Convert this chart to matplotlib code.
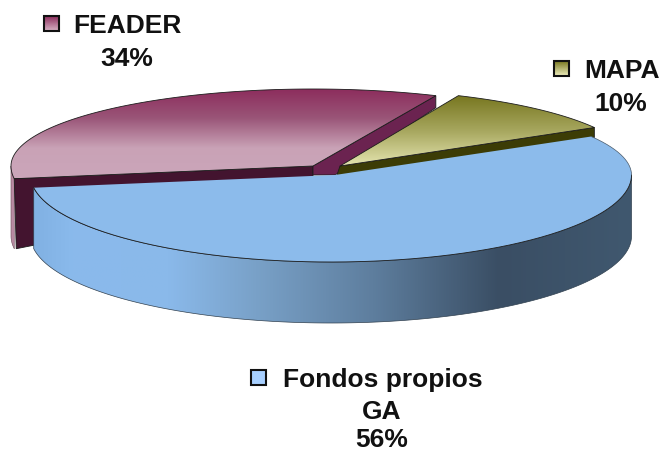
import numpy as np
import matplotlib
matplotlib.use("Agg")
import matplotlib.pyplot as plt
from matplotlib.colors import LinearSegmentedColormap
from matplotlib.patches import Polygon, Rectangle

labels = ["Fondos propios\nGA", "FEADER", "MAPA"]
shares = [56, 34, 10]
start_angle = 30

WIDTH, HEIGHT = 665, 453
plt.rcParams["font.family"] = ["Liberation Sans", "DejaVu Sans"]

fig = plt.figure(figsize=(WIDTH / 100, HEIGHT / 100), dpi=100)
ax = fig.add_axes([0, 0, 1, 1])
ax.set_xlim(0, WIDTH)
ax.set_ylim(HEIGHT, 0)
ax.axis("off")


def arc(center, start, end, rx=300, ry_back=77, ry_front=87):
    # back half of the pie looks flatter than the front half
    t = np.radians(np.linspace(start, end, 200))
    s = np.sin(t)
    ry = np.where(s > 0, ry_back, ry_front)
    return np.column_stack([center[0] + rx * np.cos(t), center[1] - ry * s])


def gradient(patch, colors, extent, horizontal=False, z=1):
    cmap = LinearSegmentedColormap.from_list("g", colors)
    ramp = np.linspace(0, 1, 256)
    ramp = ramp.reshape(1, -1) if horizontal else ramp.reshape(-1, 1)
    ax.add_patch(patch)
    im = ax.imshow(ramp, cmap=cmap, extent=extent, aspect="auto", zorder=z, origin="upper")
    im.set_clip_path(patch)
    ax.set_xlim(0, WIDTH)
    ax.set_ylim(HEIGHT, 0)


# wedge angles come from the shares, clockwise from the start angle
edges = start_angle - np.cumsum([0] + shares) * 3.6
blue_a, blue_b = edges[0], edges[1]
mag_a, mag_b = edges[1] + 360, edges[2] + 360
oli_a, oli_b = edges[2] + 360, edges[3] + 360

LINE = "#1c1c1c"
LW = 0.6

# FEADER
c = np.array([313, 166])
top = arc(c, mag_a, mag_b, rx=302)
left, right = top[0], top[-1]
# outer wall, thin strip on the far left
wall = arc(c, 180, mag_a, rx=302)
outer = np.vstack([wall, wall[::-1] + [0, 70]])
ax.add_patch(Polygon(outer, fc="#b98aa2", ec="#6b4a5a", lw=0.4, zorder=2))
ax.add_patch(Polygon([left, c, c + [0, 24], left + [2, 70]], fc="#43142f", ec=LINE, lw=LW, zorder=3))
ax.add_patch(Polygon([c, right, right + [0, 12], [335, 175], c + [0, 9]], fc="#6b2350", ec=LINE, lw=LW, zorder=3))
shape = Polygon(np.vstack([c, top]), fc="none", ec=LINE, lw=LW, zorder=5)
gradient(shape, ["#8c2c5c", "#9a5578", "#c9a2b6", "#cba6ba"], (10, 440, 178, 88), z=4)

# MAPA
apex = np.array([340, 166])
top = arc([338, 166], oli_a, oli_b, rx=296)
right = top[-1]
ax.add_patch(Polygon([apex, right, right + [0, 10], apex + [-4, 12]], fc="#3c3c06", ec=LINE, lw=LW, zorder=3))
shape = Polygon(np.vstack([apex, top]), fc="none", ec=LINE, lw=LW, zorder=5)
gradient(shape, ["#77761f", "#a8a860", "#e8e8b4"], (335, 600, 168, 95), z=4)

# Fondos propios: side wall first, then the top
apex = np.array([335, 175])
c = np.array([331, 175])
top = arc(c, blue_a, blue_b, rx=300.5)
front = arc(c, 0, blue_b, rx=300.5)
side = Polygon(np.vstack([front, front[::-1] + [0, 61]]), fc="none", ec="#30404f", lw=0.5, zorder=6)
side_colors = [(0, "#80b0e2"), (0.07, "#8abaec"), (0.23, "#8ab9ea"), (0.375, "#79a1c8"),
               (0.57, "#5e7e9e"), (0.78, "#3a4e64"), (1, "#40586f")]
gradient(side, side_colors, (30, 632, 340, 170), horizontal=True, z=5)
ax.add_patch(Polygon(np.vstack([apex, top]), fc="#8cbbeb", ec="none", zorder=7))
ax.plot(*front.T, color=LINE, lw=LW, zorder=8)
ax.plot(*arc(c, blue_a, 0, rx=300.5).T, color="#4a5a6a", lw=0.5, zorder=8)

# labels with their keys
pct_text = [f"{v}%" for v in shares]
font = dict(fontsize=19, fontweight="bold", ha="center", va="baseline", color="#111111")
ax.text(127, 33, labels[1], **font)
ax.text(127, 66, pct_text[1], **font)
ax.text(622, 78, labels[2], **font)
ax.text(621, 111, pct_text[2], **font)
name, extra = labels[0].split("\n")
ax.text(383, 387, name, **font)
ax.text(382, 419, extra, **font)
ax.text(382, 447, pct_text[0], **font)

key_size = 15
for (x, y), cols in zip(
    [(44, 16), (554, 61), (251, 370)],
    [["#8c2c5c", "#d8b4c6"], ["#77761f", "#f0f0c0"], ["#a8d0ff", "#a8d0ff"]],
):
    key = Rectangle((x, y), key_size, key_size, fc="none", ec="#111111", lw=1.5, zorder=6)
    gradient(key, cols, (x, x + key_size, y + key_size, y), z=5)

fig.savefig("out.png", dpi=100)
